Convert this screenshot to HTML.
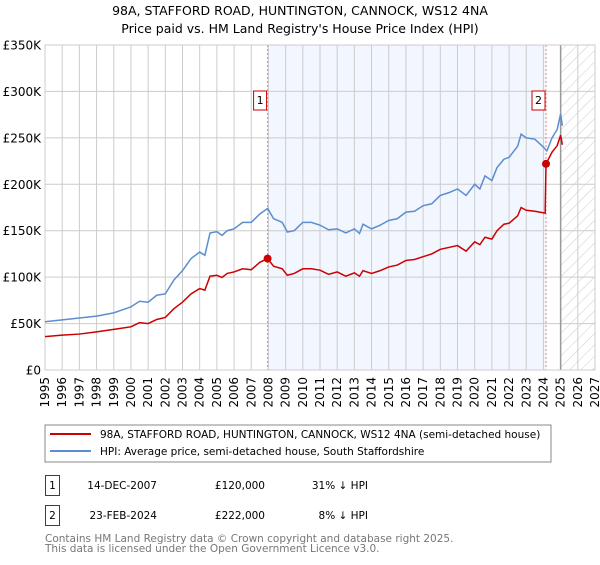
<!DOCTYPE html>
<html><head><meta charset="utf-8">
<style>
body{margin:0;background:#fff;font-family:"Liberation Sans","DejaVu Sans",sans-serif;}
svg text{font-family:"DejaVu Sans","Liberation Sans",sans-serif;}
</style></head>
<body>
<svg id="chart" width="600" height="560" xmlns="http://www.w3.org/2000/svg">
<defs>
<pattern id="hatch" width="8" height="8" patternUnits="userSpaceOnUse" patternTransform="rotate(45)">
<line x1="0" y1="0" x2="0" y2="8" stroke="#ccc" stroke-width="1"/>
</pattern>
</defs>
<text x="300" y="15" text-anchor="middle" font-size="12.5">98A, STAFFORD ROAD, HUNTINGTON, CANNOCK, WS12 4NA</text>
<text x="300" y="33" text-anchor="middle" font-size="12.5">Price paid vs. HM Land Registry's House Price Index (HPI)</text>
<g id="plot"></g>
<g>
<rect x="45" y="425" width="506" height="37" fill="#fff" stroke="#888" stroke-width="1"/>
<line x1="50" y1="434" x2="91" y2="434" stroke="#cc0000" stroke-width="2"/>
<text x="100" y="438" font-size="10.5">98A, STAFFORD ROAD, HUNTINGTON, CANNOCK, WS12 4NA (semi-detached house)</text>
<line x1="50" y1="451" x2="91" y2="451" stroke="#5b8dd0" stroke-width="2"/>
<text x="100" y="455" font-size="10.5">HPI: Average price, semi-detached house, South Staffordshire</text>
</g>
<g font-size="10.5">
<rect x="45.5" y="475.5" width="14" height="20" fill="#fff" stroke="#cc0000"/>
<text x="52.5" y="489" text-anchor="middle">1</text>
<text x="157" y="489" text-anchor="end">14-DEC-2007</text>
<text x="265" y="489" text-anchor="end">£120,000</text>
<text x="368" y="489" text-anchor="end">31% ↓ HPI</text>
<rect x="45.5" y="505.5" width="14" height="20" fill="#fff" stroke="#cc0000"/>
<text x="52.5" y="519" text-anchor="middle">2</text>
<text x="157" y="519" text-anchor="end">23-FEB-2024</text>
<text x="265" y="519" text-anchor="end">£222,000</text>
<text x="368" y="519" text-anchor="end">8% ↓ HPI</text>
</g>
<text x="45" y="542" font-size="10.5" fill="#777">Contains HM Land Registry data © Crown copyright and database right 2025.</text>
<text x="45" y="552" font-size="10.5" fill="#777">This data is licensed under the Open Government Licence v3.0.</text>
</svg>
<script>
const hpiYears=[1995,1996,1997,1998,1999,2000,2000.5,2001,2001.5,2002,2002.5,2003,2003.5,2004,2004.3,2004.6,2005,2005.3,2005.6,2006,2006.5,2007,2007.5,2007.95,2008.3,2008.8,2009.1,2009.5,2010,2010.5,2011,2011.5,2012,2012.5,2013,2013.3,2013.5,2014,2014.5,2015,2015.5,2016,2016.5,2017,2017.5,2018,2018.5,2019,2019.5,2020,2020.3,2020.6,2021,2021.3,2021.7,2022,2022.5,2022.7,2023,2023.5,2024,2024.2,2024.5,2024.8,2025.0,2025.1];
const hpiValues=[52,54,56,58,61.5,68,74,73,80.5,82,97,107,120,127,123.5,147.5,149,145,150,152,159,159,168,174,163,159,148.6,150,159,159,156,151,152,147.6,152,147,157,152,156,161,163,170,171,177,179,188,191,195,188,200,195,209,204,218,227,229,241,254,250,248.6,240,236,250,259,276,263];
const propYears=[1995,1996,1997,1998,1999,2000,2000.5,2001,2001.5,2002,2002.5,2003,2003.5,2004,2004.3,2004.6,2005,2005.3,2005.6,2006,2006.5,2007,2007.5,2007.95,2008.3,2008.8,2009.1,2009.5,2010,2010.5,2011,2011.5,2012,2012.5,2013,2013.3,2013.5,2014,2014.5,2015,2015.5,2016,2016.5,2017,2017.5,2018,2018.5,2019,2019.5,2020,2020.3,2020.6,2021,2021.3,2021.7,2022,2022.5,2022.7,2023,2023.5,2024.1,2024.15,2024.5,2024.8,2025.0,2025.1];
const propValues=[36,37.6,38.7,41,43.7,46.5,51,50,54.4,56.6,66,73,82,87.7,86,101,102,99.6,104,105.6,109,108,116,120,111.8,109,102,104,109,109,107.5,103,105.6,101,104.6,101,107,104,107,111,113,118,119,122,125,130,132,134,128,138,135,143,141,150,157,158,166,175,172,171,169,222,234.6,241.6,253,242.6];
const saleYears=[2007.95,2024.15];
const saleValues=[120,222];
const saleLabels=["1","2"];
const yTicks=[0,50,100,150,200,250,300,350];
const yTickLabels=["£0","£50K","£100K","£150K","£200K","£250K","£300K","£350K"];
const xTicks=[1995,1996,1997,1998,1999,2000,2001,2002,2003,2004,2005,2006,2007,2008,2009,2010,2011,2012,2013,2014,2015,2016,2017,2018,2019,2020,2021,2022,2023,2024,2025,2026,2027];

const NS="http://www.w3.org/2000/svg";
const L=45,R=595,T=45,B=370;
const x=v=>L+(v-1995)/(2027-1995)*(R-L);
const y=v=>B-v/350*(B-T);
const plot=document.getElementById('plot');
function mk(tag,attrs,parent){const e=document.createElementNS(NS,tag);for(const k in attrs)e.setAttribute(k,attrs[k]);(parent||plot).appendChild(e);return e;}

const shade=mk('rect',{x:x(saleYears[0]),y:T,width:x(saleYears[1])-x(saleYears[0]),height:B-T,fill:'#eef3fd',opacity:0.75});


const hatch=mk('rect',{x:x(2025),y:T,width:R-x(2025),height:B-T,fill:'url(#hatch)'});



xTicks.forEach(t=>{
  const g=mk('line',{x1:x(t),x2:x(t),y1:T,y2:B,stroke:'#ccc','stroke-width':1});
  
  
  const lb=mk('text',{x:0,y:0,'font-size':12,'text-anchor':'end',transform:`translate(${x(t)+4},${B+7}) rotate(-90)`});
  lb.textContent=t;
  
  
});
yTicks.forEach((t,i)=>{
  const g=mk('line',{x1:L,x2:R,y1:y(t),y2:y(t),stroke:'#ccc','stroke-width':1});
  
  
  const lb=mk('text',{x:L-4,y:y(t)+4.5,'font-size':12,'text-anchor':'end'});
  lb.textContent=yTickLabels[i];
  
  
});
const nowLine=mk('line',{x1:x(2025),x2:x(2025),y1:T,y2:B,stroke:'#999','stroke-width':1.5});



saleYears.forEach((s,i)=>{
  const l=mk('line',{x1:x(s),x2:x(s),y1:T,y2:B,stroke:'#f08080','stroke-width':1,'stroke-dasharray':'2,2'});
  
  
  const bx=mk('rect',{x:x(s)-14,y:91,width:13,height:19,fill:'#fff',stroke:'#cc0000'});
  
  
  const tx=mk('text',{x:x(s)-7.5,y:104,'font-size':11,'text-anchor':'middle'});
  tx.textContent=saleLabels[i];
  
  
});

const border=mk('rect',{x:L,y:T,width:R-L,height:B-T,fill:'none',stroke:'#ccc'});



const hp=mk('polyline',{points:hpiYears.map((v,i)=>x(v)+','+y(hpiValues[i])).join(' '),fill:'none',stroke:'#5b8dd0','stroke-width':1.5});


const pp=mk('polyline',{points:propYears.map((v,i)=>x(v)+','+y(propValues[i])).join(' '),fill:'none',stroke:'#cc0000','stroke-width':1.5});


saleYears.forEach((s,i)=>{
  const c=mk('circle',{cx:x(s),cy:y(saleValues[i]),r:4,fill:'#cc0000'});
  
  
});
</script>
</body></html>
